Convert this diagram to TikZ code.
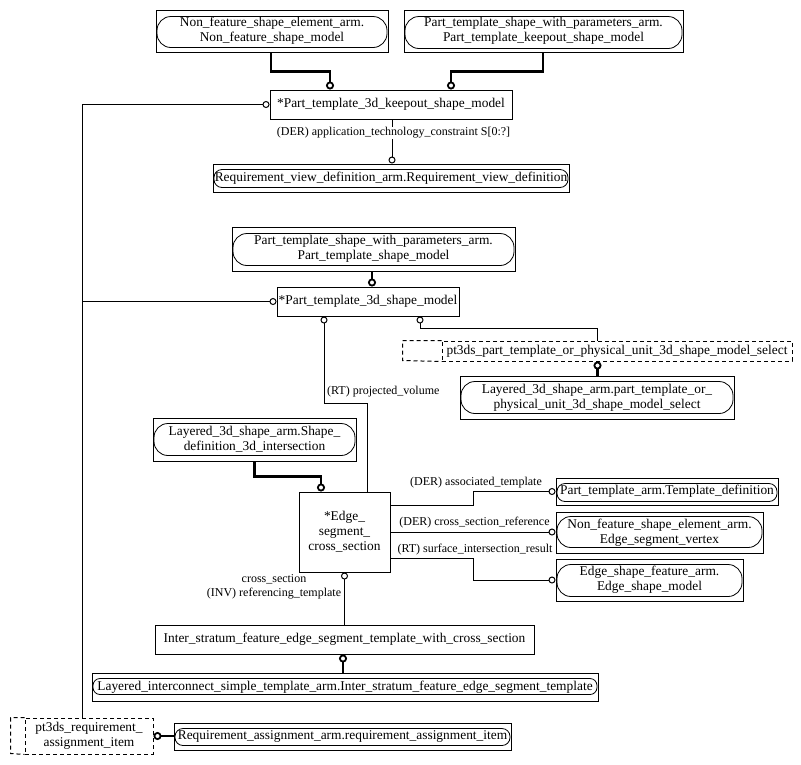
\documentclass[tikz,border=0pt]{standalone}
\usepackage{fontspec}
\setmainfont{Liberation Serif}
\usetikzlibrary{arrows.meta}
\begin{document}
\begin{tikzpicture}[x=1pt,y=-1pt,
  ent/.style={draw, line width=1pt, inner sep=0pt, align=center, font=\fontsize{13.4}{15}\selectfont},
  selb/.style={ent, dash pattern=on 4pt off 3pt},
  dsh/.style={line width=1pt, dash pattern=on 4pt off 3pt},
  conn/.style={line width=1pt},
  thk/.style={line width=2.4pt},
  pl/.style={draw, line width=0.8pt, rounded corners=#1},
  lab/.style={font=\fontsize{12}{14}\selectfont, inner sep=1pt, align=center},
  ocirc/.tip={Circle[open,length=7pt,width=7pt,line width=1pt]},
  Ocirc/.tip={Circle[open,length=8pt,width=8pt,line width=1.8pt]}]
\newcommand\pillbox[4]{\draw[pl=#4] ([xshift=1.5pt,yshift=-#2]#1.north west) rectangle ([xshift=-1.5pt,yshift=#3]#1.south east);}
\useasboundingbox (0,0) rectangle (801,764);

% entity nodes
\node[ent, minimum width=232pt, minimum height=42pt] (A) at (272,31) {Non\_feature\_shape\_element\_arm.\\Non\_feature\_shape\_model};
\node[ent, minimum width=279pt, minimum height=42pt] (B) at (543.5,31) {Part\_template\_shape\_with\_parameters\_arm.\\Part\_template\_keepout\_shape\_model};
\node[ent, minimum width=242pt, minimum height=29pt] (K) at (391,104.5) {*Part\_template\_3d\_keepout\_shape\_model};
\node[ent, minimum width=356pt, minimum height=28pt] (R) at (391,178) {Requirement\_view\_definition\_arm.Requirement\_view\_definition};
\node[ent, minimum width=283pt, minimum height=44pt] (C) at (373.5,249) {Part\_template\_shape\_with\_parameters\_arm.\\Part\_template\_shape\_model};
\node[ent, minimum width=182pt, minimum height=29pt] (S) at (368,301.5) {*Part\_template\_3d\_shape\_model};
\node[selb, minimum width=350pt, minimum height=20pt] (Sel) at (617,351) {pt3ds\_part\_template\_or\_physical\_unit\_3d\_shape\_model\_select};
\draw[dsh] (Sel.north west) -- ++(-39,0) -- ++(0,20) -- (Sel.south west);
\node[ent, minimum width=274pt, minimum height=43pt] (L3) at (597,397.5) {Layered\_3d\_shape\_arm.part\_template\_or\_\\physical\_unit\_3d\_shape\_model\_select};
\node[ent, minimum width=203pt, minimum height=43pt] (LS) at (254.5,439.5) {Layered\_3d\_shape\_arm.Shape\_\\definition\_3d\_intersection};
\node[ent, minimum width=91pt, minimum height=80pt] (E) at (344.5,532) {*Edge\_\\segment\_\\cross\_section};
\node[ent, minimum width=222pt, minimum height=27pt] (TD) at (667,491.5) {Part\_template\_arm.Template\_definition};
\node[ent, minimum width=207pt, minimum height=41pt] (ESV) at (659.5,532.5) {Non\_feature\_shape\_element\_arm.\\Edge\_segment\_vertex};
\node[ent, minimum width=187pt, minimum height=42pt] (ESM) at (649.5,580) {Edge\_shape\_feature\_arm.\\Edge\_shape\_model};
\node[ent, minimum width=379pt, minimum height=29pt] (I) at (344.5,639.5) {Inter\_stratum\_feature\_edge\_segment\_template\_with\_cross\_section};
\node[ent, minimum width=506pt, minimum height=28pt] (LI) at (345,687) {Layered\_interconnect\_simple\_template\_arm.Inter\_stratum\_feature\_edge\_segment\_template};
\node[selb, minimum width=128pt, minimum height=36pt] (PRA) at (89,736) {pt3ds\_requirement\_\\assignment\_item};
\draw[dsh] (PRA.north west) -- ++(-14,0) -- ++(0,36) -- (PRA.south west);
\node[ent, minimum width=337pt, minimum height=27pt] (RA) at (342.5,736.5) {Requirement\_assignment\_arm.requirement\_assignment\_item};

% inner rounded outlines
\pillbox{A}{7pt}{5pt}{14pt}
\pillbox{B}{7pt}{4pt}{14pt}
\pillbox{R}{6pt}{5pt}{8pt}
\pillbox{C}{7pt}{6pt}{14pt}
\pillbox{L3}{6pt}{6pt}{14pt}
\pillbox{LS}{6pt}{6pt}{14pt}
\pillbox{TD}{6pt}{4pt}{8pt}
\pillbox{ESV}{5pt}{6pt}{14pt}
\pillbox{ESM}{6pt}{5pt}{14pt}
\pillbox{LI}{6pt}{7pt}{7pt}
\pillbox{RA}{6pt}{5pt}{8pt}

% connectors
\draw[thk,-Ocirc] ([xshift=-1pt]A.south) -- ++(0,19) -| ([xshift=-61pt]K.north);
\draw[thk,-Ocirc] ([xshift=-0.5pt]B.south) -- ++(0,19) -| ([xshift=60pt]K.north);
\draw[conn,-ocirc] ([xshift=-6.5pt]PRA.north) -- ([xshift=-6.5pt]PRA.north |- K.west) -- (K.west);
\draw[conn,-ocirc] ([xshift=-6.5pt]PRA.north |- S.west) -- (S.west);
\draw[conn,-ocirc] ([xshift=1pt]K.south) -- ([xshift=1pt]R.north);
\node[lab, fill=white] (l1) at (393.5,133) {(DER) application\_technology\_constraint S[0:?]};
\draw[thk,-Ocirc] ([xshift=-1.5pt]C.south) -- ([xshift=-1.5pt]C.south |- S.north);
\draw[conn,ocirc-] ([xshift=-44pt]S.south) -- ++(0,87) -| ([xshift=22.5pt]E.north);
\node[lab, anchor=west] (l2) at (326,392) {(RT) projected\_volume};
\draw[conn,ocirc-] ([xshift=52pt]S.south) -- ++(0,12) -| ([xshift=-19.5pt]Sel.north);
\draw[thk,Ocirc-] ([xshift=-19.5pt]Sel.south) -- ([xshift=-19.5pt]Sel.south |- L3.north);
\draw[thk,-Ocirc] (LS.south) -- ++(0,15) -| ([xshift=-23.5pt]E.north);
\draw[conn,ocirc-] (E.south) -- (E.south |- I.north);
\node[lab] (l3) at (274,587) {cross\_section\\(INV) referencing\_template};
\draw[conn,-ocirc] ([yshift=27pt]E.east) -- ++(83,0) |- (TD.west);
\node[lab] (l4) at (476,483) {(DER) associated\_template};
\draw[conn,-ocirc] (E.east) -- (E.east -| ESV.west);
\node[lab] (l5) at (474.5,523) {(DER) cross\_section\_reference};
\draw[conn,-ocirc] ([yshift=-26pt]E.east) -- ++(83,0) |- (ESM.west);
\node[lab] (l6) at (475,550) {(RT) surface\_intersection\_result};
\draw[thk,Ocirc-] ([xshift=-1.5pt]I.south) -- ([xshift=-1.5pt]I.south |- LI.north);
\draw[thk,Ocirc-] (PRA.east) -- (PRA.east -| RA.west);
\end{tikzpicture}
\end{document}
